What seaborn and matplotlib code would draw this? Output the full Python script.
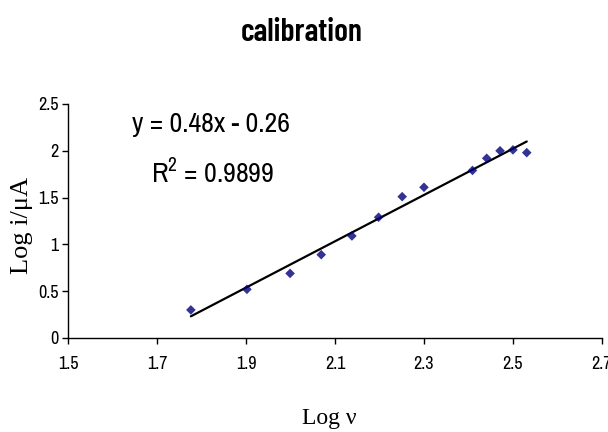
import matplotlib
matplotlib.use("Agg")
import matplotlib.pyplot as plt
import seaborn as sns
import pandas as pd

log_v = [1.776, 1.902, 1.999, 2.069, 2.138, 2.198, 2.251, 2.300, 2.409, 2.441, 2.471, 2.500, 2.531]
log_i = [0.30, 0.52, 0.69, 0.89, 1.09, 1.29, 1.51, 1.61, 1.79, 1.92, 2.00, 2.01, 1.98]
x_ticks = [1.5, 1.7, 1.9, 2.1, 2.3, 2.5, 2.7]
y_ticks = [0, 0.5, 1, 1.5, 2, 2.5]

sns.set_style("white")
NARROW = ["Liberation Sans Narrow", "Archivo Narrow", "Liberation Sans", "DejaVu Sans"]
BOLD_NARROW = ["Barlow Condensed", "Liberation Sans Narrow", "Liberation Sans", "DejaVu Sans"]
SERIF = ["Liberation Serif", "DejaVu Serif"]
plt.rcParams["font.family"] = NARROW
plt.rcParams["text.color"] = "black"
plt.rcParams["axes.labelcolor"] = "black"
plt.rcParams["mathtext.fontset"] = "custom"
plt.rcParams["mathtext.rm"] = "Archivo Narrow"

df = pd.DataFrame({"x": log_v, "y": log_i})

fig = plt.figure(figsize=(6.08, 4.32), dpi=100)
ax = fig.add_axes([0.112, 0.2176, 0.878, 0.5417])
sns.regplot(data=df, x="x", y="y", ax=ax, ci=None,
            marker="D", scatter_kws={"s": 24, "color": "#00007a", "edgecolors": "none", "zorder": 3},
            line_kws={"color": "black", "lw": 1.6})

ax.set_xlim(1.5, 2.7)
ax.set_ylim(0, 2.5)
ax.set_xticks(x_ticks)
ax.set_xticklabels([f"{t:g}" for t in x_ticks])
ax.set_yticks(y_ticks)
ax.set_yticklabels([f"{t:g}" for t in y_ticks])
sns.despine(ax=ax)
for s in ["left", "bottom"]:
    ax.spines[s].set_color("black")
    ax.spines[s].set_linewidth(1)
ax.tick_params(axis="both", direction="out", length=4, width=1, color="black",
               labelsize=13, labelcolor="black", left=True, bottom=True)
ax.tick_params(axis="x", pad=9)
ax.tick_params(axis="y", pad=3)

ax.set_xlabel("Log ν", family=SERIF, fontsize=17)
ax.set_ylabel("Log i/μA", family=SERIF, fontsize=19)
ax.xaxis.set_label_coords(0.49, -0.30)
ax.yaxis.set_label_coords(-0.065, 0.479)

fig.text(0.497, 0.905, "calibration", ha="center", va="baseline",
         fontsize=23, fontweight="semibold", family=BOLD_NARROW)
fig.text(0.347, 0.694, "y = 0.48x - 0.26", ha="center", va="baseline", fontsize=20)
fig.text(0.349, 0.579, "R$^2$ = 0.9899", ha="center", va="baseline", fontsize=20)

fig.savefig("out.png", dpi=100)
